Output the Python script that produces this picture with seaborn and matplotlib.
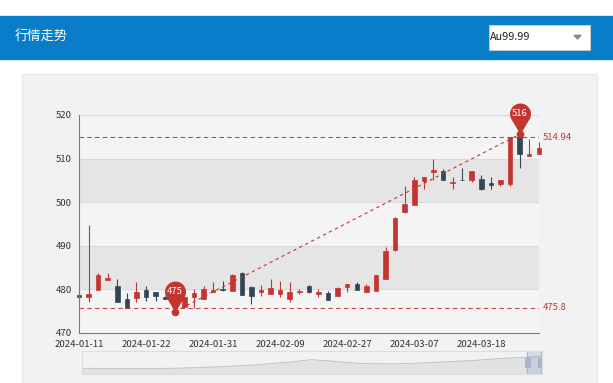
import numpy as np
import pandas as pd
import matplotlib
matplotlib.use('Agg')
import matplotlib.pyplot as plt
from matplotlib.path import Path
from matplotlib.patches import Rectangle, Polygon
import seaborn as sns

# 1. Data (trading days, Au99.99)
title = '行情走势'
symbol_name = 'Au99.99'
dates = ['2024-01-11', '2024-01-12', '2024-01-15', '2024-01-16', '2024-01-17', '2024-01-18', '2024-01-19',
         '2024-01-22', '2024-01-23', '2024-01-24', '2024-01-25', '2024-01-26', '2024-01-29', '2024-01-30',
         '2024-01-31', '2024-02-01', '2024-02-02', '2024-02-05', '2024-02-06', '2024-02-07', '2024-02-08',
         '2024-02-09', '2024-02-19', '2024-02-20', '2024-02-21', '2024-02-22', '2024-02-23', '2024-02-26',
         '2024-02-27', '2024-02-28', '2024-02-29', '2024-03-01', '2024-03-04', '2024-03-05', '2024-03-06',
         '2024-03-07', '2024-03-08', '2024-03-11', '2024-03-12', '2024-03-13', '2024-03-14', '2024-03-15',
         '2024-03-18', '2024-03-19', '2024-03-20', '2024-03-21', '2024-03-22', '2024-03-25', '2024-03-26']
open_ = [478.8, 478.3, 479.8, 482.1, 480.8, 477.7, 478.0, 479.9, 479.3, 478.3,
         478.2, 476.0, 478.2, 477.8, 479.3, 480.0, 479.6, 483.8, 480.6, 479.5,
         478.9, 478.9, 477.8, 479.3, 480.8, 479.0, 479.1, 478.6, 480.6, 481.2,
         479.4, 479.7, 482.5, 489.0, 497.8, 499.4, 504.9, 506.9, 507.2, 504.3,
         505.2, 505.1, 505.4, 504.3, 504.2, 504.2, 514.9, 510.6, 511.1]
close = [478.2, 479.0, 483.3, 482.7, 477.0, 475.8, 479.3, 478.2, 478.4, 477.9,
         477.4, 478.3, 479.1, 480.0, 479.9, 479.8, 483.4, 478.8, 478.6, 479.9,
         480.3, 479.8, 479.4, 479.6, 479.3, 479.3, 477.6, 480.3, 481.2, 479.9,
         480.8, 483.3, 488.9, 496.4, 499.6, 505.1, 505.7, 507.3, 505.0, 504.7,
         505.0, 507.1, 503.1, 503.9, 505.1, 514.94, 511.1, 511.1, 512.5]
low = [477.4, 477.0, 479.8, 482.1, 477.0, 475.7, 477.0, 477.3, 477.4, 477.8,
       474.9, 475.9, 475.7, 477.8, 479.3, 479.7, 479.6, 478.8, 476.7, 478.5,
       478.9, 478.2, 477.2, 478.9, 479.2, 478.2, 477.5, 478.6, 479.4, 479.9,
       479.3, 479.7, 482.5, 488.8, 497.5, 499.4, 503.0, 505.1, 505.0, 503.0,
       505.0, 504.6, 502.7, 503.1, 503.7, 503.8, 507.9, 510.6, 511.1]
high = [479.6, 494.8, 483.8, 483.8, 482.3, 479.2, 481.8, 480.8, 479.4, 478.5,
        478.6, 478.8, 480.0, 480.8, 481.7, 482.0, 483.6, 483.9, 480.7, 481.0,
        482.3, 481.9, 481.6, 480.0, 481.0, 480.1, 479.7, 480.5, 481.3, 481.6,
        481.3, 483.3, 489.8, 496.5, 503.8, 505.8, 505.8, 509.8, 507.6, 505.7,
        507.8, 507.2, 506.2, 505.7, 505.1, 514.94, 515.6, 514.6, 513.7]

# overview curve of the slider (position 0..1, height 0..1)
shadow_pos = [0.0, 0.10, 0.20, 0.30, 0.375, 0.45, 0.50, 0.55, 0.61, 0.69, 0.76, 0.84, 0.92, 1.0]
shadow_level = [0.24, 0.23, 0.24, 0.31, 0.39, 0.52, 0.63, 0.55, 0.45, 0.44, 0.50, 0.58, 0.69, 0.77]
zoom_start, zoom_end = 96.8, 99.8  # percent

up_color = '#c23531'
down_color = '#314656'

df = pd.DataFrame({'date': dates, 'open': open_, 'close': close, 'low': low, 'high': high})
df['idx'] = np.arange(len(df))
df['up'] = df['close'] >= df['open']

sns.set_style('white')
plt.rcParams['font.family'] = ['Noto Sans CJK SC', 'DejaVu Sans']

W, H = 613, 383
fig = plt.figure(figsize=(W / 100, H / 100), dpi=100)


def px(x0, y0, x1, y1):  # pixel box (top-left origin) -> figure fraction
    return [x0 / W, 1 - y1 / H, (x1 - x0) / W, (y1 - y0) / H]


def fig_rect(x0, y0, x1, y1, **kw):
    b = px(x0, y0, x1, y1)
    fig.add_artist(Rectangle((b[0], b[1]), b[2], b[3], transform=fig.transFigure, **kw))


# 2. page: header bar, drop-down, panel
fig_rect(0, 16, W, 58.6, color='#0a7dc8', zorder=-2)
fig.text(15 / W, 1 - 37.5 / H, title, color='white', fontsize=9.5, va='center')
fig_rect(489, 24.6, 590, 50, facecolor='white', edgecolor='#d0d0d0', lw=0.6, zorder=-1)
fig.text(490 / W, 1 - 37.5 / H, symbol_name, color='#222222', fontsize=7.8, va='center')
tri = np.array([[574, 35.3], [581, 35.3], [577.5, 39.0]])
fig.add_artist(Polygon(np.column_stack([tri[:, 0] / W, 1 - tri[:, 1] / H]), closed=True,
                       transform=fig.transFigure, color='#8a8a8a'))
fig_rect(21.5, 73.7, 596.5, 382.5, facecolor='#f2f2f2', edgecolor='#e6e6e6', lw=0.8, zorder=-2)

# 3. candlestick chart
ax = fig.add_axes(px(79, 115, 538.8, 333))
ax.patch.set_alpha(0)
yticks = list(range(470, 521, 10))
for k in range(len(yticks) - 1):
    ax.axhspan(yticks[k], yticks[k + 1], color='#f4f4f4' if k % 2 == 0 else '#e5e5e5', lw=0, zorder=0)
for v in yticks[1:]:
    ax.axhline(v, color='#dadada', lw=0.8, zorder=1)

for is_up, col in [(True, up_color), (False, down_color)]:
    d = df[df['up'] == is_up]
    bottom = np.minimum(d['open'], d['close'])
    height = np.maximum(np.abs(d['close'] - d['open']), 0.15)
    ax.vlines(d['idx'], d['low'], d['high'], colors=col, lw=0.8, zorder=2, clip_on=False)
    ax.bar(d['idx'], height, width=0.47, bottom=bottom, color=col, edgecolor=col, lw=0.5,
           zorder=3, clip_on=False)

# mark lines on close (min / max)
for v in [df['close'].min(), df['close'].max()]:
    ax.axhline(v, color=up_color, ls=(0, (4, 3)), lw=0.8, zorder=4, alpha=0.9)
    ax.annotate(f'{v:g}', xy=(1, v), xycoords=('axes fraction', 'data'), xytext=(3, 0),
                textcoords='offset points', ha='left', va='center', color=up_color, fontsize=6.8)

# line from lowest to highest
i_min, i_max = df['low'].idxmin(), df['high'].idxmax()
ax.plot([i_min, i_max], [df['low'][i_min], df['high'][i_max]], ls=(0, (3, 3)), lw=0.8, color=up_color,
        marker='o', markersize=4.5, zorder=5, clip_on=False)


# pin markers
def pin_path(c=1.95, r=1.0):
    a = np.arccos(r / c)
    t = np.linspace(-np.pi / 2 + a, 3 * np.pi / 2 - a, 60)
    verts = np.column_stack([r * np.cos(t), c + r * np.sin(t)])
    verts = np.vstack([[0, 0], verts, [0, 0]])
    return Path(verts, closed=True)


M = 44.6
for i, v in [(i_min, df['low'][i_min]), (i_max, df['high'][i_max])]:
    ax.plot(i, v, marker=pin_path(), markersize=M, color=up_color, mec='none', zorder=6, clip_on=False)
    ax.annotate(str(round(v)), xy=(i, v), xytext=(0, 1.95 / 2.95 * M / 2), textcoords='offset points',
                ha='center', va='center', color='white', fontsize=6.8, zorder=7)

ax.set_xlim(0, len(df) - 1)
ax.set_ylim(470, 520)
ax.set_yticks(yticks)
ax.set_xticks(df['idx'][::7])
ax.set_xticklabels(df['date'][::7])
for s in ['top', 'right']:
    ax.spines[s].set_visible(False)
for s in ['left', 'bottom']:
    ax.spines[s].set_color('#7a7a7a')
    ax.spines[s].set_linewidth(0.8)
    ax.spines[s].set_zorder(5)
ax.tick_params(axis='both', length=3.5, width=0.8, color='#7a7a7a', labelsize=6.9, labelcolor='#333333',
               pad=1.5)

# 4. data zoom slider
sax = fig.add_axes(px(82, 351.4, 541.8, 373.6))
sax.patch.set_alpha(0)
sns.lineplot(x=shadow_pos, y=shadow_level, ax=sax, color='#2f4554', alpha=0.3, lw=0.6)
sax.fill_between(shadow_pos, 0, shadow_level, color='#2f4554', alpha=0.09, lw=0)
sax.axvspan(zoom_start / 100, zoom_end / 100, color='#a7b7cc', alpha=0.4, lw=0)
for e in [zoom_start / 100, zoom_end / 100]:
    sax.axvline(e, color='#a7b7cc', lw=0.8)
    sax.add_patch(Rectangle((e - 0.0055, 0.28), 0.011, 0.44, facecolor='#a7b7cc', edgecolor='#8fa3bd',
                            lw=0.4, zorder=4))
sax.set_xlim(0, 1)
sax.set_ylim(0, 1)
sax.set_xticks([])
sax.set_yticks([])
for s in sax.spines.values():
    s.set_color('#dddddd')
    s.set_linewidth(0.8)

plt.savefig('out.png', dpi=100)
